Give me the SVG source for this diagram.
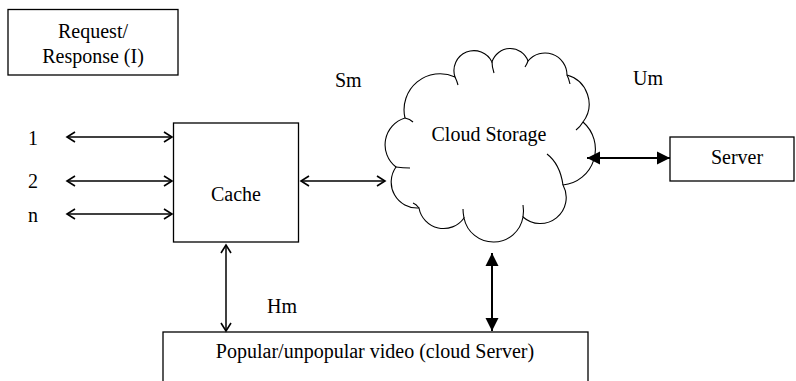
<svg xmlns="http://www.w3.org/2000/svg" width="796" height="381" viewBox="0 0 796 381">
  <style>
    .box { fill: #ffffff; stroke: #000000; stroke-width: 1.3; }
    .lbl { font-family: "Liberation Serif", "Times New Roman", serif; font-size: 20px; fill: #000000; }
    .mid { text-anchor: middle; }
    .thin { stroke: #000000; stroke-width: 1.5; fill: none; }
    .thick { stroke: #000000; stroke-width: 2; fill: none; }
    .cloud { fill: #ffffff; stroke: #000000; stroke-width: 1.1; }
    .tail { fill: none; stroke: #000000; stroke-width: 1.1; }
  </style>
  <defs>
    <marker id="openHead" viewBox="-10 -7 12 14" markerWidth="12" markerHeight="14" markerUnits="userSpaceOnUse" refX="0" refY="0" orient="auto-start-reverse">
      <path d="M-8,-5 L0,0 L-8,5" fill="none" stroke="#000000" stroke-width="1.6" stroke-linejoin="miter"/>
    </marker>
    <marker id="solidHead" viewBox="-14 -8 15 16" markerWidth="15" markerHeight="16" markerUnits="userSpaceOnUse" refX="0" refY="0" orient="auto-start-reverse">
      <path d="M-13,-6.5 L0,0 L-13,6.5 Z" fill="#000000"/>
    </marker>
  </defs>

  <rect width="796" height="381" fill="#ffffff"/>

  <g id="request-response">
    <rect class="box" x="8" y="9.5" width="170" height="65.5"/>
    <text class="lbl mid" x="93" y="38">Request/</text>
    <text class="lbl mid" x="93" y="63">Response (I)</text>
  </g>

  <g id="inputs">
    <text class="lbl" x="28" y="145">1</text>
    <text class="lbl" x="28" y="188">2</text>
    <text class="lbl" x="28" y="222">n</text>
  </g>

  <g id="cache">
    <rect class="box" x="173.5" y="123" width="125" height="119"/>
    <text class="lbl mid" x="236" y="201">Cache</text>
  </g>

  <g id="cloud-storage">
    <path class="cloud" d="M396,167
      A28,28 0 0 1 405,118
      A36,36 0 0 1 455,77
      A20,20 0 0 1 492,62
      A19,19 0 0 1 528,61
      A22,22 0 0 1 567,75
      A30,30 0 0 1 583,122
      A36,36 0 0 1 563,185
      A26,26 0 0 1 523,217
      A30,30 0 0 1 464,218
      A25,25 0 0 1 419,208
      A26,26 0 0 1 396,167 Z"/>
    <path class="tail" d="M396,167 Q403,168 410,168"/>
    <path class="tail" d="M405,118 Q410,119 413,122"/>
    <path class="tail" d="M455,77 Q457,81 458,85"/>
    <path class="tail" d="M492,62 Q492,67 494,73"/>
    <path class="tail" d="M528,61 Q527,64 525,67"/>
    <path class="tail" d="M567,75 Q569,79 570,84"/>
    <path class="tail" d="M583,122 Q580,127 576,130"/>
    <path class="tail" d="M547,154 Q560,164 563,185"/>
    <path class="tail" d="M523,217 Q524,211 523,205"/>
    <path class="tail" d="M464,218 Q463,213 463,209"/>
    <path class="tail" d="M419,208 Q416,204 413,203"/>
    <text class="lbl mid" x="489" y="141">Cloud Storage</text>
  </g>

  <g id="server">
    <rect class="box" x="670" y="137" width="124" height="44"/>
    <text class="lbl mid" x="737" y="164">Server</text>
  </g>

  <g id="video-server">
    <rect class="box" x="163" y="332" width="425" height="60"/>
    <text class="lbl mid" x="375" y="358">Popular/unpopular video (cloud Server)</text>
  </g>

  <g id="connectors">
    <line class="thin" x1="67" y1="137" x2="172" y2="137" marker-start="url(#openHead)" marker-end="url(#openHead)"/>
    <line class="thin" x1="67" y1="181" x2="172" y2="181" marker-start="url(#openHead)" marker-end="url(#openHead)"/>
    <line class="thin" x1="67" y1="214" x2="172" y2="214" marker-start="url(#openHead)" marker-end="url(#openHead)"/>
    <line class="thin" x1="301" y1="181" x2="385" y2="181" marker-start="url(#openHead)" marker-end="url(#openHead)"/>
    <line class="thin" x1="226" y1="245" x2="226" y2="331" marker-start="url(#openHead)" marker-end="url(#openHead)"/>
    <line class="thick" x1="587" y1="158" x2="670" y2="158" marker-start="url(#solidHead)" marker-end="url(#solidHead)"/>
    <line class="thick" x1="492" y1="253" x2="492" y2="331" marker-start="url(#solidHead)" marker-end="url(#solidHead)"/>
  </g>

  <g id="link-labels">
    <text class="lbl" x="335" y="87">Sm</text>
    <text class="lbl" x="633" y="85">Um</text>
    <text class="lbl" x="267" y="313">Hm</text>
  </g>
</svg>
